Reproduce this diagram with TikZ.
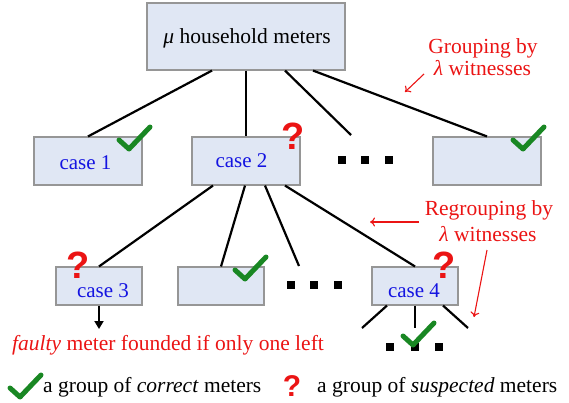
\documentclass[tikz,border=0pt]{standalone}
\usepackage{fontspec}
\setmainfont{Liberation Serif}
\newfontfamily\qfont{Liberation Sans}
\usetikzlibrary{calc,arrows.meta}
\definecolor{boxfill}{RGB}{224,231,244}
\definecolor{boxline}{RGB}{150,150,150}
\definecolor{casecol}{RGB}{20,20,225}
\definecolor{redcol}{RGB}{235,20,20}
\definecolor{chkgreen}{RGB}{25,135,35}
\tikzset{
  bigbox/.style={draw=boxline, line width=1.1pt, fill=boxfill, inner sep=0pt, minimum width=198pt, minimum height=67pt},
  midbox/.style={draw=boxline, line width=1.1pt, fill=boxfill, inner sep=0pt, minimum width=108pt, minimum height=48pt},
  smallbox/.style={draw=boxline, line width=1.1pt, fill=boxfill, inner sep=0pt, minimum width=86pt, minimum height=38pt},
  txt/.style={inner sep=0pt, anchor=base, font=\fontsize{21.5}{25}\selectfont},
  casetxt/.style={inner sep=0pt, anchor=base, text=casecol, font=\fontsize{21}{25}\selectfont},
  redtxt/.style={inner sep=0pt, anchor=base, text=redcol, font=\fontsize{21.5}{25}\selectfont},
  qm/.style={inner sep=0pt, anchor=base, text=redcol, font=\qfont\bfseries\fontsize{38}{38}\selectfont},
  sq/.style={fill=black, inner sep=0pt, minimum size=7.5pt},
  conn/.style={draw=black, line width=2.2pt},
  redarrow/.style={draw=redcol, line width=1.1pt, -{To[length=5pt,width=9pt]}},
  chk/.pic={\draw[chkgreen, line width=5pt, line cap=round, line join=round] (-10,-9) -- (0,0) -- (21,-22);}
}
\begin{document}
\begin{tikzpicture}[x=1pt,y=-1pt]
\useasboundingbox (0,0) rectangle (569,402);
% boxes
\node[bigbox] (T) at (246,36.5) {};
\node[midbox] (C1) at (88,161) {};
\node[midbox] (C2) at (246,161) {};
\node[midbox] (C5) at (487,161) {};
\node[smallbox] (C3) at (99,286) {};
\node[smallbox] (B2) at (221,286) {};
\node[smallbox] (C4) at (415,286) {};
% box texts
\node[txt] (Tt) at (247,43) {\textit{μ} household meters};
\node[casetxt] (c1t) at (85.5,169) {case 1};
\node[casetxt] (c2t) at (241.5,167) {case 2};
\node[casetxt] (c3t) at (103,297) {case 3};
\node[casetxt] (c4t) at (414,297) {case 4};
% dots
\node[sq] (d1) at (342,160) {};
\node[sq] (d2) at (365,160) {};
\node[sq] (d3) at (389,160) {};
\node[sq] (e1) at (291,285) {};
\node[sq] (e2) at (314,285) {};
\node[sq] (e3) at (338,285) {};
\node[sq] (f1) at (390,347) {};
\node[sq] (f2) at (415,347) {};
\node[sq] (f3) at (439,347) {};
% free ends
\coordinate (Tdots) at (351,135);
\coordinate (C2dots) at (299,266);
\coordinate (C4a) at (362,328);
\coordinate (C4b) at (415,328);
\coordinate (C4c) at (468,328);
% connectors
\draw[conn] ($(T.south)+(-34,0)$) -- (C1.north);
\draw[conn] (T.south) -- (C2.north);
\draw[conn] ($(T.south)+(39,0)$) -- (Tdots);
\draw[conn] ($(T.south)+(67,0)$) -- (C5.north);
\draw[conn] ($(C2.south)+(-33,0)$) -- (C3.north);
\draw[conn] ($(C2.south)+(-1,0)$) -- (B2.north);
\draw[conn] ($(C2.south)+(19,0)$) -- (C2dots);
\draw[conn] ($(C2.south)+(39,0)$) -- (C4.north);
\draw[conn] ($(C4.south)+(-28,0)$) -- (C4a);
\draw[conn] (C4.south) -- (C4b);
\draw[conn] ($(C4.south)+(28,0)$) -- (C4c);
% checks
\pic at (129,149) {chk};
\pic at (523,149) {chk};
\pic at (245,279) {chk};
\pic at (413,345) {chk};
% question marks
\node[qm] (q2) at (293,149) {?};
\node[qm] (q3) at (78,278) {?};
\node[qm] (q4) at (444,278) {?};
% red annotations
\node[redtxt] (g1) at (483,53) {Grouping by};
\node[redtxt] (g2) at (482.5,75) {\textit{λ} witnesses};
\node[redtxt] (r1) at (489,215) {Regrouping by};
\node[redtxt] (r2) at (488,241) {\textit{λ} witnesses};
\coordinate (a1s) at (424,74);
\coordinate (a1e) at (405,92);
\coordinate (a2s) at (419,222);
\coordinate (a2e) at (370,222);
\coordinate (a3s) at (487,250);
\coordinate (a3e) at (474,317);
\draw[redarrow] (a1s) -- (a1e);
\draw[redarrow] (a2s) -- (a2e);
\draw[redarrow] (a3s) -- (a3e);
% faulty
\coordinate (fa) at (99,329);
\draw[conn, line width=1.8pt, -{Triangle[length=8pt,width=9pt]}] (C3.south) -- (fa);
\node[redtxt, anchor=base west] (ft) at (12,350) {\textit{faulty} meter founded if only one left};
% legend
\pic at (20,397) {chk};
\node[txt, anchor=base west] (l1) at (43,392) {a group of \textit{correct} meters};
\node[qm, font=\qfont\bfseries\fontsize{30}{30}\selectfont] (lq) at (292,396) {?};
\node[txt, anchor=base west] (l2) at (317,392) {a group of \textit{suspected} meters};
\end{tikzpicture}
\end{document}
